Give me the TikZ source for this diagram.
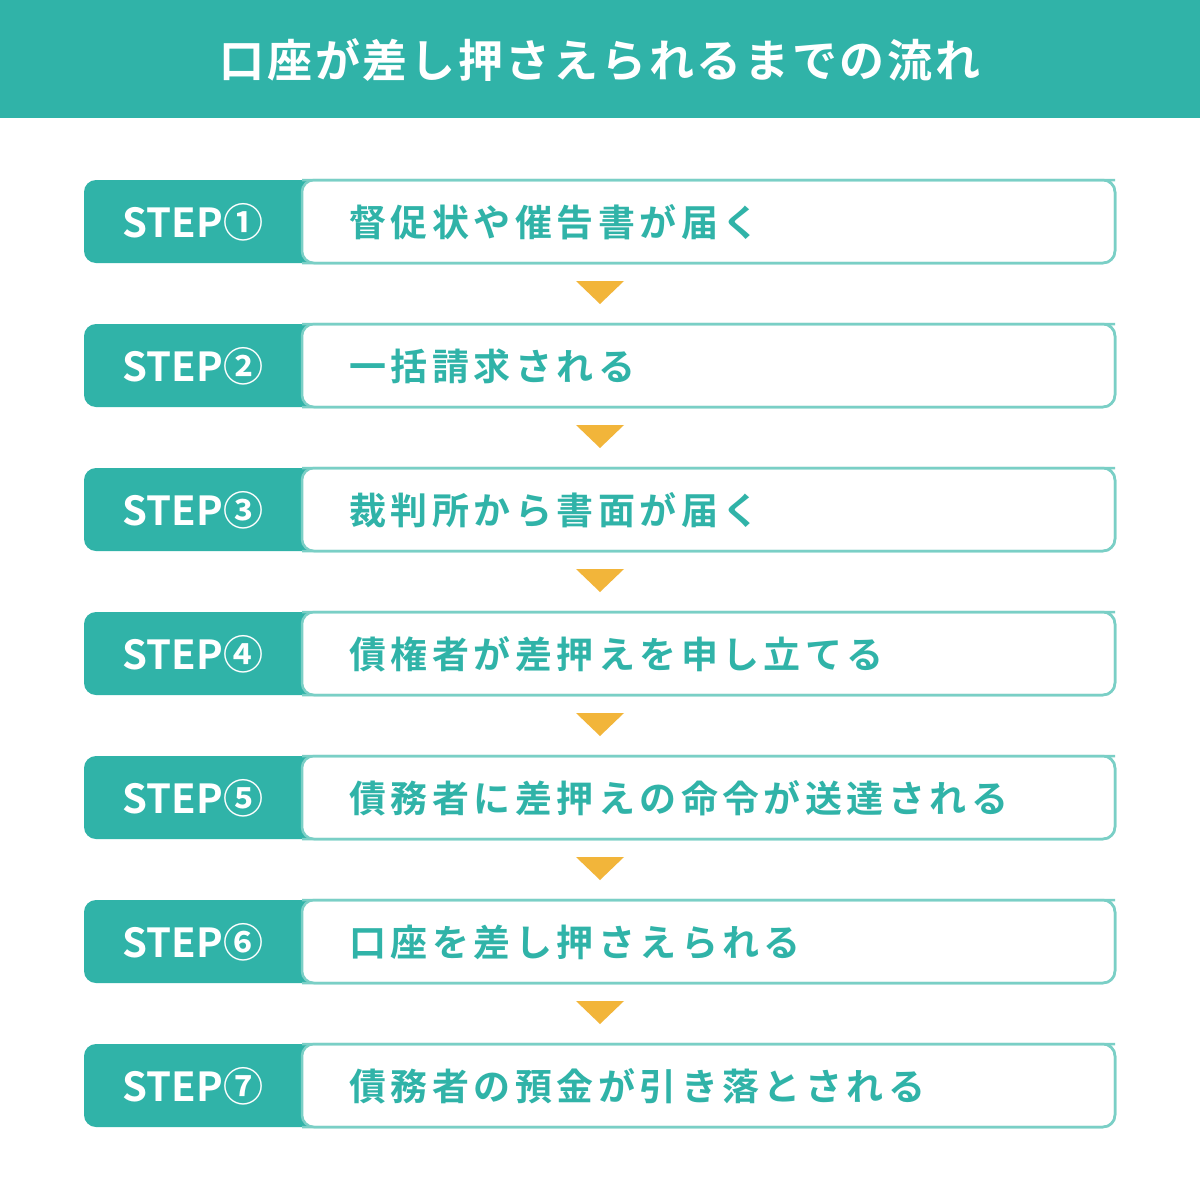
\documentclass[tikz,border=0pt]{standalone}
\usepackage{fontspec}
\setmainfont{Noto Sans CJK JP}[BoldFont={Noto Sans CJK JP Bold}]
\newfontfamily\jpbold{Noto Sans CJK JP Bold}[LetterSpace=12]
\newfontfamily\jptitle{Noto Sans CJK JP Bold}[LetterSpace=6]
\definecolor{teal}{HTML}{30B3A8}
\definecolor{lightteal}{HTML}{7ACFC6}
\definecolor{arrowgold}{HTML}{F2B53A}
\begin{document}
\begin{tikzpicture}
[
x=1pt,y=-1pt,
stepbox/.style={draw=lightteal,line width=2.5pt,rounded corners=12pt,fill=white},
steptag/.style={fill=teal,rounded corners=12pt},
steplabel/.style={text=white,font=\fontsize{40}{40}\selectfont\bfseries},
steptext/.style={text=teal,anchor=west,font=\fontsize{37}{37}\jpbold},
downarrow/.style={fill=arrowgold}
]
\fill[white] (0,0) rectangle (1200,1183);
\fill[teal] (0,0) rectangle (1200,118);
\node[text=white,font=\fontsize{45}{45}\jptitle] (title) at (600,60) {口座が差し押さえられるまでの流れ};

\foreach \i/\txt [evaluate=\i as \y using {180+144*(\i-1)}] in {
  1/督促状や催告書が届く,
  2/一括請求される,
  3/裁判所から書面が届く,
  4/債権者が差押えを申し立てる,
  5/債務者に差押えの命令が送達される,
  6/口座を差し押さえられる,
  7/債務者の預金が引き落とされる} {
  \fill[steptag] (84,\y) rectangle (314,\y+83);
  \draw[stepbox] (302,\y) -- (1103,\y) -- (1115,\y) -- (1115,\y+83) -- (302,\y+83) -- cycle;
  \draw[lightteal,line width=2.5pt,rounded corners=12pt] (302,\y) -- (1115,\y) -- (1115,\y+83) -- (302,\y+83);
  \node[steplabel] (tag\i) at (193,\y+42) {STEP\ifcase\i\or ①\or ②\or ③\or ④\or ⑤\or ⑥\or ⑦\fi};
  \node[steptext] (text\i) at (346,\y+42) {\txt};
}
\foreach \i in {1,...,6} {
  \fill[downarrow] (576,281+144*\i-144) -- (624,281+144*\i-144) -- (600,304+144*\i-144) -- cycle;
}
\end{tikzpicture}
\end{document}
